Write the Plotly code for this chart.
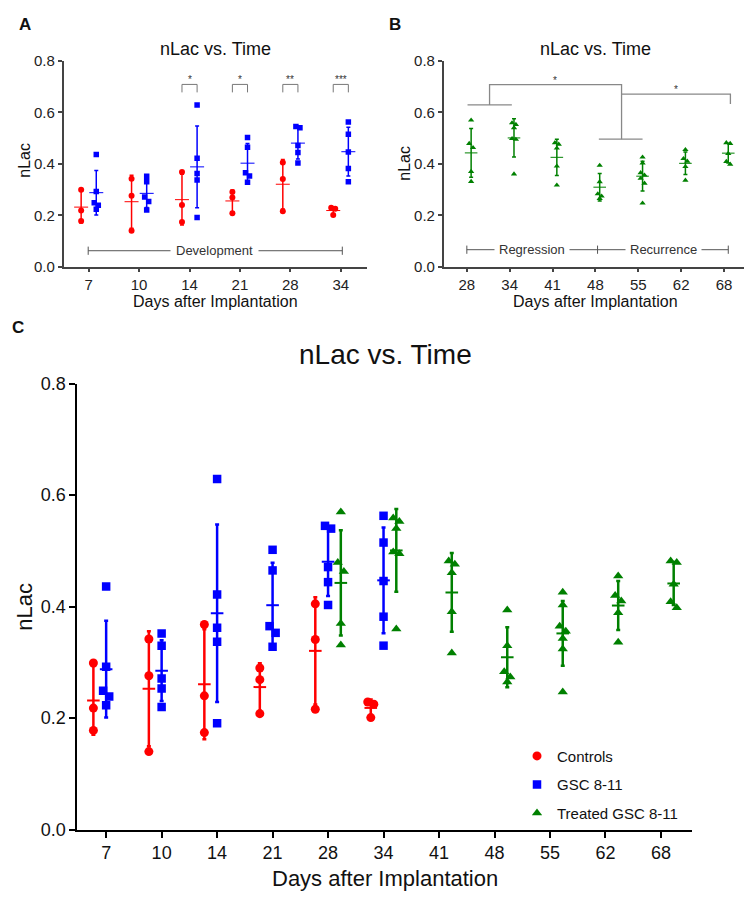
import numpy as np
import plotly.graph_objects as go

# ---------------- data ----------------
dev_days = ["7", "10", "14", "21", "28", "34"]
treat_days = ["28", "34", "41", "48", "55", "62", "68"]
all_days = ["7", "10", "14", "21", "28", "34", "41", "48", "55", "62", "68"]

controls = [
    [0.299, 0.218, 0.178],
    [0.342, 0.276, 0.140],
    [0.368, 0.240, 0.174],
    [0.290, 0.269, 0.208],
    [0.405, 0.341, 0.216],
    [0.229, 0.225, 0.201],
]
gsc = [
    [0.436, 0.292, 0.249, 0.239, 0.223],
    [0.352, 0.330, 0.271, 0.253, 0.220],
    [0.629, 0.422, 0.362, 0.337, 0.191],
    [0.502, 0.465, 0.365, 0.353, 0.328],
    [0.545, 0.540, 0.471, 0.444, 0.403],
    [0.563, 0.515, 0.446, 0.382, 0.330],
]
treated = [
    [0.570, 0.479, 0.463, 0.370, 0.331],
    [0.559, 0.553, 0.540, 0.498, 0.495, 0.360],
    [0.482, 0.476, 0.461, 0.391, 0.317],
    [0.394, 0.330, 0.283, 0.274, 0.265],
    [0.426, 0.403, 0.365, 0.356, 0.343, 0.324, 0.247],
    [0.455, 0.420, 0.410, 0.389, 0.336],
    [0.482, 0.479, 0.440, 0.409, 0.398],
]
sig_days = ["14", "21", "28", "34"]
sig_labels = ["*", "*", "**", "***"]
y_ticks = [0.0, 0.2, 0.4, 0.6, 0.8]

RED, BLUE, GREEN = "#ff0000", "#0000ff", "#008000"
FONT = "Liberation Sans, Arial, sans-serif"
OFF = 8               # page body margin
W, H = 754 - OFF, 910 - OFF


def px(x):
    return (x - OFF) / W


def py(y):
    return 1 - (y - OFF) / H


fig = go.Figure()


def spread(vals, thr, d):
    """small horizontal separation for points that would overlap"""
    order = np.argsort(vals)[::-1]
    offs = np.zeros(len(vals))
    used = set()
    for a, b in zip(order[:-1], order[1:]):
        if abs(vals[a] - vals[b]) < thr and a not in used and b not in used:
            offs[a] = -d / 2
            offs[b] = d / 2
            used.update([a, b])
    return offs


def add_group(days_ref, days, groups, off, color, symbol, xa, ya, msize,
              ebw, ebcap, msz_mean, thr, dj, name=None, legend=False):
    xs, ys, mx, my, sd = [], [], [], [], []
    for d, vals in zip(days, groups):
        c = days_ref.index(d) + off
        j = spread(vals, thr, dj)
        for v, o in zip(vals, j):
            xs.append(c + o)
            ys.append(v)
        arr = np.array(vals)
        mx.append(c)
        my.append(arr.mean())
        sd.append(arr.std(ddof=1))
    fig.add_trace(go.Scatter(
        x=mx, y=my, mode="markers", xaxis=xa, yaxis=ya, showlegend=False,
        marker=dict(symbol="line-ew", size=msz_mean,
                    line=dict(width=max(ebw - 0.5, 1), color=color)),
        error_y=dict(type="data", array=sd, visible=True, color=color,
                     thickness=ebw, width=ebcap),
        hoverinfo="skip"))
    fig.add_trace(go.Scatter(
        x=xs, y=ys, mode="markers", xaxis=xa, yaxis=ya, name=name,
        showlegend=legend, legendgroup=name,
        marker=dict(symbol=symbol, size=msize, color=color, line=dict(width=0))))


# Panel A
add_group(dev_days, dev_days, controls, -0.15, RED, "circle", "x", "y", 6, 1.5, 2, 10, 0.02, 0.08)
add_group(dev_days, dev_days, gsc, 0.15, BLUE, "square", "x", "y", 5.5, 1.5, 2, 10, 0.02, 0.08)
# Panel B
add_group(treat_days, treat_days, treated, 0.1, GREEN, "triangle-up", "x2", "y2", 5.5, 1.5, 2, 9, 0.02, 0.09)
# Panel C
add_group(all_days, dev_days, controls, -0.23, RED, "circle", "x3", "y3", 9, 2.5, 2, 9, 0.017, 0.11,
          name="Controls", legend=True)
add_group(all_days, dev_days, gsc, 0.0, BLUE, "square", "x3", "y3", 8.5, 2.5, 2, 9, 0.017, 0.11,
          name="GSC 8-11", legend=True)
add_group(all_days, treat_days, treated, 0.23, GREEN, "triangle-up", "x3", "y3", 9, 2.5, 2, 9, 0.017, 0.11,
          name="Treated GSC 8-11", legend=True)

# axes
axAB = dict(showgrid=False, zeroline=False, showline=True, linecolor="#444",
            linewidth=1.5, ticks="outside", ticklen=4, tickwidth=1.5,
            tickcolor="#444", tickfont=dict(family=FONT, size=15, color="#222"))
axC = dict(showgrid=False, zeroline=False, showline=True, linecolor="#000",
           linewidth=2, ticks="outside", ticklen=6, tickwidth=2,
           tickcolor="#000", tickfont=dict(family=FONT, size=18, color="#111"))

fig.update_layout(
    xaxis=dict(axAB, domain=[px(63.5), px(367)], range=[-0.5, 5.52],
               tickvals=list(range(len(dev_days))), ticktext=dev_days, anchor="y"),
    yaxis=dict(axAB, domain=[py(262.3), py(52)], range=[0, 0.8],
               tickvals=y_ticks, tickformat=".1f", anchor="x"),
    xaxis2=dict(axAB, domain=[px(443.7), px(743.7)], range=[-0.54, 6.46],
                tickvals=list(range(len(treat_days))), ticktext=treat_days, anchor="y2"),
    yaxis2=dict(axAB, domain=[py(262.3), py(52)], range=[0, 0.8],
                tickvals=y_ticks, tickformat=".1f", anchor="x2"),
    xaxis3=dict(axC, domain=[px(77.3), px(692)], range=[-0.52, 10.56],
                tickvals=list(range(len(all_days))), ticktext=all_days, anchor="y3"),
    yaxis3=dict(axC, domain=[py(838), py(382)], range=[0, 0.8],
                tickvals=y_ticks, tickformat=".1f", anchor="x3"),
)

shapes = []
ann = []
GRAY = "#777"

# Panel A significance brackets
for d, lab in zip(sig_days, sig_labels):
    c = dev_days.index(d)
    shapes.append(dict(type="path", xref="x", yref="y",
                       path=f"M {c-0.15} 0.678 L {c-0.15} 0.709 L {c+0.15} 0.709 L {c+0.15} 0.678",
                       line=dict(color=GRAY, width=1)))
    ann.append(dict(x=c, y=0.709, xref="x", yref="y", text=lab, showarrow=False,
                    yanchor="bottom", yshift=-3, font=dict(family=FONT, size=10, color="#333")))

# Panel A development line
shapes.append(dict(type="line", xref="x", yref="y", x0=-0.01, x1=5.03, y0=0.062, y1=0.062,
                   line=dict(color="#555", width=1)))
for xe in [-0.01, 5.03]:
    shapes.append(dict(type="line", xref="x", yref="y", x0=xe, x1=xe, y0=0.046, y1=0.078,
                       line=dict(color="#555", width=1)))
ann.append(dict(x=2.5, y=0.062, xref="x", yref="y", text="Development", showarrow=False,
                bgcolor="white", borderpad=5, font=dict(family=FONT, size=13, color="#333")))

# Panel B regression / recurrence line
shapes.append(dict(type="line", xref="x2", yref="y2", x0=0.0, x1=6.1, y0=0.066, y1=0.066,
                   line=dict(color="#555", width=1)))
for xe in [0.0, 3.05, 6.1]:
    shapes.append(dict(type="line", xref="x2", yref="y2", x0=xe, x1=xe, y0=0.05, y1=0.082,
                       line=dict(color="#555", width=1)))
ann.append(dict(x=1.53, y=0.066, xref="x2", yref="y2", text="Regression", showarrow=False,
                bgcolor="white", borderpad=4, font=dict(family=FONT, size=13, color="#333")))
ann.append(dict(x=4.58, y=0.066, xref="x2", yref="y2", text="Recurrence", showarrow=False,
                bgcolor="white", borderpad=4, font=dict(family=FONT, size=13, color="#333")))

# Panel B brackets
bpaths = [
    "M 0.016 0.629 L 1.05 0.629",
    "M 0.53 0.629 L 0.53 0.708 L 3.61 0.708 L 3.61 0.496",
    "M 3.08 0.496 L 4.10 0.496",
    "M 3.61 0.671 L 6.15 0.671 L 6.15 0.633",
]
for p in bpaths:
    shapes.append(dict(type="path", xref="x2", yref="y2", path=p,
                       line=dict(color="#888", width=1.3)))
ann.append(dict(x=2.06, y=0.708, xref="x2", yref="y2", text="*", showarrow=False,
                yanchor="bottom", yshift=-3, font=dict(family=FONT, size=10, color="#333")))
ann.append(dict(x=4.87, y=0.671, xref="x2", yref="y2", text="*", showarrow=False,
                yanchor="bottom", yshift=-3, font=dict(family=FONT, size=10, color="#333")))


# Titles, labels
def txt(x, y, s, size, bold=False, angle=0, color="#111"):
    ann.append(dict(x=px(x), y=py(y), xref="paper", yref="paper", text=f"<b>{s}</b>" if bold else s,
                    showarrow=False, textangle=angle, xanchor="center", yanchor="middle",
                    font=dict(family=FONT, size=size, color=color)))


txt(25, 15, "A", 17, bold=True)
txt(395, 15, "B", 17, bold=True)
txt(18, 325, "C", 17, bold=True)
txt(215, 40, "nLac vs. Time", 18)
txt(595, 40, "nLac vs. Time", 18)
txt(385, 352, "nLac vs. Time", 28)
txt(215, 298, "Days after Implantation", 16)
txt(595, 298, "Days after Implantation", 16)
txt(385, 888, "Days after Implantation", 22)
txt(25, 154, "nLac", 16, angle=-90)
txt(405, 157, "nLac", 16, angle=-90)
txt(25, 610, "nLac", 22, angle=-90)

fig.update_layout(
    shapes=shapes, annotations=ann,
    width=W, height=H, autosize=False,
    margin=dict(l=0, r=0, t=0, b=0),
    plot_bgcolor="white", paper_bgcolor="white",
    font=dict(family=FONT),
    legend=dict(x=px(517), y=py(746), xanchor="left", yanchor="top",
                bgcolor="rgba(0,0,0,0)", tracegroupgap=6,
                font=dict(family=FONT, size=15, color="#111")),
)

fig.write_html("out.html")
